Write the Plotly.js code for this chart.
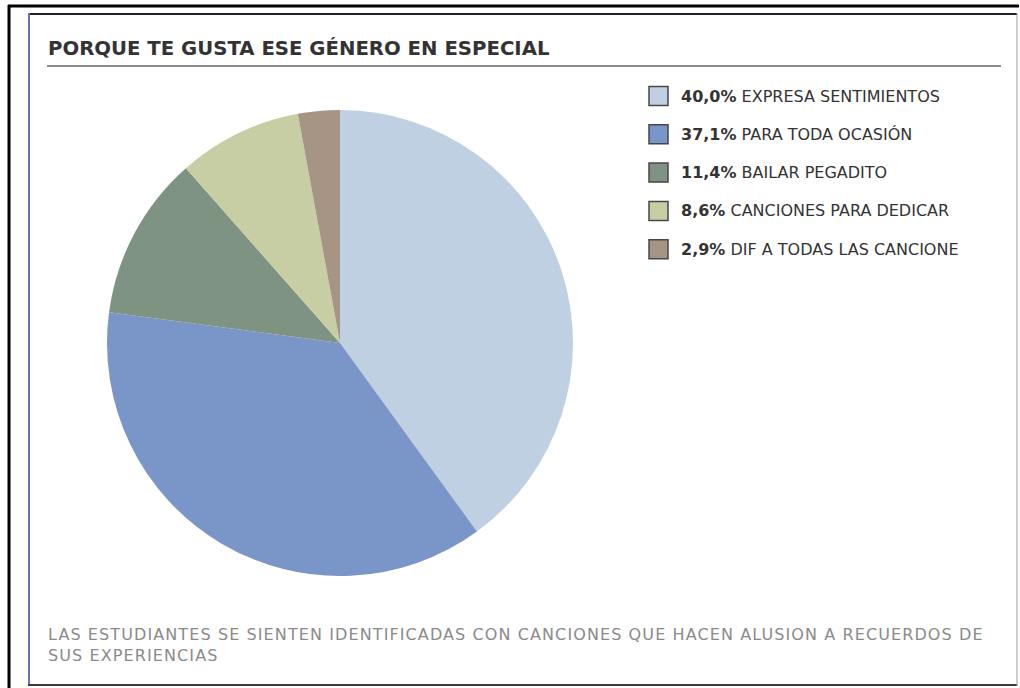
<!DOCTYPE html>
<html>
<head>
<meta charset="utf-8">
<script src="https://cdn.plot.ly/plotly-3.0.1.min.js"></script>
<style>
  html, body { margin: 0; padding: 0; background: #ffffff; }
  #chart { width: 1020px; height: 688px; }
  .annotation[data-index="1"] .annotation-text { letter-spacing: 1.1px; }
</style>
</head>
<body>
<div id="chart"></div>
<script>
// ---- Data ----
const chartTitle = "PORQUE TE GUSTA ESE GÉNERO EN ESPECIAL";
const categories = [
  "EXPRESA SENTIMIENTOS",
  "PARA TODA OCASIÓN",
  "BAILAR PEGADITO",
  "CANCIONES PARA DEDICAR",
  "DIF A TODAS LAS CANCIONE"
];
const values = [40.0, 37.1, 11.4, 8.6, 2.9];
const sliceColors = ["#BFD0E3", "#7A95C8", "#7F9383", "#C7CEA4", "#A69585"];
const footnoteLines = [
  "LAS ESTUDIANTES SE SIENTEN IDENTIFICADAS CON CANCIONES QUE HACEN ALUSION A RECUERDOS DE",
  "SUS EXPERIENCIAS"
];

// ---- Helpers (pixel -> paper) ----
const W = 1020, H = 688;
const X = px => px / W;
const Y = py => 1 - py / H;

const pctText = v => v.toFixed(1).replace(".", ",") + "%";

// Pie geometry
const cx = 340, cy = 343, r = 233;

const trace = {
  type: "pie",
  labels: categories,
  values: values,
  sort: false,
  direction: "clockwise",
  rotation: 0,
  textinfo: "none",
  hoverinfo: "label+percent",
  showlegend: false,
  marker: { colors: sliceColors, line: { width: 0 } },
  domain: { x: [X(cx - r), X(cx + r)], y: [Y(cy + r), Y(cy - r)] }
};

const shapes = [
  // outer black frame (top + left)
  { type: "line", xref: "paper", yref: "paper", x0: X(8), x1: X(1019), y0: Y(6), y1: Y(6), line: { color: "#000000", width: 3 } },
  { type: "line", xref: "paper", yref: "paper", x0: X(9), x1: X(9), y0: Y(5), y1: Y(688), line: { color: "#000000", width: 3 } },
  // inner panel frame
  { type: "line", xref: "paper", yref: "paper", x0: X(28), x1: X(1017), y0: Y(14), y1: Y(14), line: { color: "#1e2030", width: 2 } },
  { type: "line", xref: "paper", yref: "paper", x0: X(29), x1: X(29), y0: Y(13), y1: Y(686), line: { color: "#6575a8", width: 2 } },
  { type: "line", xref: "paper", yref: "paper", x0: X(28), x1: X(1017), y0: Y(685), y1: Y(685), line: { color: "#3c3c3c", width: 2 } },
  { type: "line", xref: "paper", yref: "paper", x0: X(1017), x1: X(1017), y0: Y(13), y1: Y(686), line: { color: "#9a9aa8", width: 1 } },
  // title underline
  { type: "line", xref: "paper", yref: "paper", x0: X(47), x1: X(1001), y0: Y(66), y1: Y(66), line: { color: "#8c8c8c", width: 2 } }
];

const annotations = [
  {
    xref: "paper", yref: "paper", x: X(46), y: Y(48), xanchor: "left", yanchor: "middle",
    showarrow: false, text: "<b>" + chartTitle + "</b>",
    font: { family: "DejaVu Sans", size: 19.7, color: "#333333" }
  },
  {
    xref: "paper", yref: "paper", x: X(46), y: Y(645), xanchor: "left", yanchor: "middle", align: "left",
    showarrow: false, text: footnoteLines.join("<br>"),
    font: { family: "DejaVu Sans", size: 16, color: "#8a8a8a" }
  }
];

// Legend built from the data arrays
const legTop = 96, legStep = 38.3, sq = 19, sqX = 649, txtX = 679;
categories.forEach((cat, i) => {
  const yc = legTop + i * legStep;
  shapes.push({
    type: "rect", xref: "paper", yref: "paper",
    x0: X(sqX), x1: X(sqX + sq), y0: Y(yc - sq / 2), y1: Y(yc + sq / 2),
    fillcolor: sliceColors[i], line: { color: "#474747", width: 1.5 }
  });
  annotations.push({
    xref: "paper", yref: "paper", x: X(txtX), y: Y(yc), xanchor: "left", yanchor: "middle",
    showarrow: false, text: "<b>" + pctText(values[i]) + "</b> " + cat,
    font: { family: "DejaVu Sans", size: 16, color: "#333333" }
  });
});

const layout = {
  width: W, height: H,
  margin: { l: 0, r: 0, t: 0, b: 0 },
  paper_bgcolor: "#ffffff",
  plot_bgcolor: "#ffffff",
  showlegend: false,
  shapes: shapes,
  annotations: annotations
};

Plotly.newPlot("chart", [trace], layout, { displayModeBar: false, staticPlot: true });
</script>
</body>
</html>
